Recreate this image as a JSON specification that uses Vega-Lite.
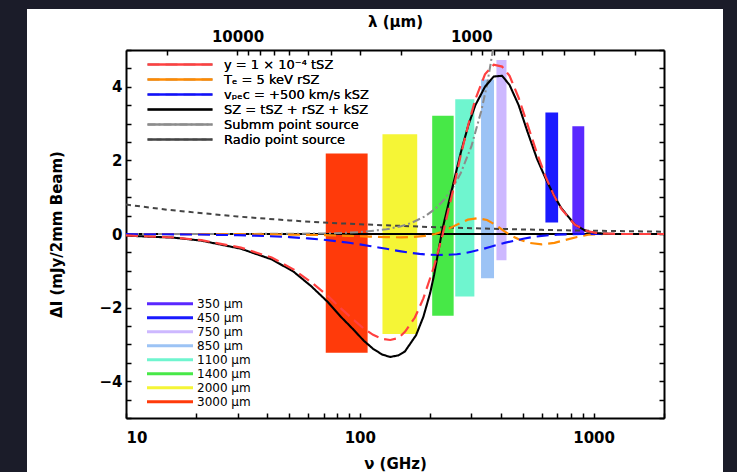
{
  "$schema": "https://vega.github.io/schema/vega-lite/v6.json",
  "width": 696,
  "height": 463,
  "autosize": {"type": "none"},
  "padding": {"left": 27, "top": 9, "right": 14, "bottom": 0},
  "background": "#1b1c29",
  "view": {"fill": "#ffffff", "stroke": null},
  "config": {
    "font": "DejaVu Sans",
    "axis": {
      "grid": false, "domainColor": "#000000", "domainWidth": 2,
      "tickColor": "#000000", "tickWidth": 1.5, "tickSize": -5,
      "labelColor": "#000000", "labelFont": "DejaVu Sans", "labelFontSize": 15, "labelFontWeight": "bold",
      "titleFont": "DejaVu Sans", "titleFontSize": 15, "titleFontWeight": "bold", "titleColor": "#000000"
    },
    "legend": {"labelFont": "DejaVu Sans", "labelColor": "#000000"}
  },
  "datasets": {
    "bands": [
      {"band": "3000 μm", "lo": 71.5, "hi": 108, "top": 2.19, "bottom": -3.23},
      {"band": "2000 μm", "lo": 125, "hi": 176, "top": 2.71, "bottom": -2.72},
      {"band": "1400 μm", "lo": 204, "hi": 252, "top": 3.21, "bottom": -2.22},
      {"band": "1100 μm", "lo": 256, "hi": 309, "top": 3.66, "bottom": -1.7},
      {"band": "850 μm", "lo": 330, "hi": 375, "top": 4.2, "bottom": -1.2},
      {"band": "750 μm", "lo": 384, "hi": 424, "top": 4.73, "bottom": -0.71},
      {"band": "450 μm", "lo": 622, "hi": 705, "top": 3.3, "bottom": 0.31},
      {"band": "350 μm", "lo": 811, "hi": 912, "top": 2.93, "bottom": -0.03}
    ],
    "curves": [
      {"s": "rad", "nu": 10, "v": 0.8}, {"s": "rad", "nu": 15, "v": 0.66}, {"s": "rad", "nu": 20, "v": 0.58},
      {"s": "rad", "nu": 30, "v": 0.475}, {"s": "rad", "nu": 50, "v": 0.37}, {"s": "rad", "nu": 70, "v": 0.31},
      {"s": "rad", "nu": 100, "v": 0.265}, {"s": "rad", "nu": 150, "v": 0.22}, {"s": "rad", "nu": 200, "v": 0.19},
      {"s": "rad", "nu": 300, "v": 0.157}, {"s": "rad", "nu": 400, "v": 0.137}, {"s": "rad", "nu": 600, "v": 0.113},
      {"s": "rad", "nu": 800, "v": 0.098}, {"s": "rad", "nu": 1000, "v": 0.088}, {"s": "rad", "nu": 1500, "v": 0.073},
      {"s": "rad", "nu": 2000, "v": 0.063},

      {"s": "sub", "nu": 10, "v": 0}, {"s": "sub", "nu": 30, "v": 0.001}, {"s": "sub", "nu": 50, "v": 0.005},
      {"s": "sub", "nu": 70, "v": 0.015}, {"s": "sub", "nu": 85, "v": 0.029}, {"s": "sub", "nu": 100, "v": 0.051},
      {"s": "sub", "nu": 130, "v": 0.127}, {"s": "sub", "nu": 150, "v": 0.21}, {"s": "sub", "nu": 166, "v": 0.3},
      {"s": "sub", "nu": 190, "v": 0.48}, {"s": "sub", "nu": 210, "v": 0.68}, {"s": "sub", "nu": 230, "v": 0.94},
      {"s": "sub", "nu": 250, "v": 1.26}, {"s": "sub", "nu": 270, "v": 1.65}, {"s": "sub", "nu": 300, "v": 2.38},
      {"s": "sub", "nu": 330, "v": 3.32}, {"s": "sub", "nu": 350, "v": 4.05}, {"s": "sub", "nu": 371, "v": 5.0},

      {"s": "rsz", "nu": 10, "v": 0}, {"s": "rsz", "nu": 30, "v": -0.005}, {"s": "rsz", "nu": 50, "v": -0.015},
      {"s": "rsz", "nu": 70, "v": -0.03}, {"s": "rsz", "nu": 90, "v": -0.05}, {"s": "rsz", "nu": 110, "v": -0.07},
      {"s": "rsz", "nu": 130, "v": -0.085}, {"s": "rsz", "nu": 150, "v": -0.09}, {"s": "rsz", "nu": 170, "v": -0.08},
      {"s": "rsz", "nu": 190, "v": -0.05}, {"s": "rsz", "nu": 210, "v": 0.0}, {"s": "rsz", "nu": 230, "v": 0.08},
      {"s": "rsz", "nu": 250, "v": 0.2}, {"s": "rsz", "nu": 270, "v": 0.3}, {"s": "rsz", "nu": 290, "v": 0.39},
      {"s": "rsz", "nu": 320, "v": 0.43}, {"s": "rsz", "nu": 350, "v": 0.38}, {"s": "rsz", "nu": 380, "v": 0.25},
      {"s": "rsz", "nu": 410, "v": 0.1}, {"s": "rsz", "nu": 440, "v": -0.03}, {"s": "rsz", "nu": 480, "v": -0.15},
      {"s": "rsz", "nu": 530, "v": -0.24}, {"s": "rsz", "nu": 600, "v": -0.28}, {"s": "rsz", "nu": 680, "v": -0.24},
      {"s": "rsz", "nu": 760, "v": -0.16}, {"s": "rsz", "nu": 850, "v": -0.08}, {"s": "rsz", "nu": 950, "v": -0.02},
      {"s": "rsz", "nu": 1100, "v": 0}, {"s": "rsz", "nu": 2000, "v": 0},

      {"s": "ksz", "nu": 10, "v": -0.004}, {"s": "ksz", "nu": 15, "v": -0.008}, {"s": "ksz", "nu": 20, "v": -0.014},
      {"s": "ksz", "nu": 30, "v": -0.032}, {"s": "ksz", "nu": 40, "v": -0.056}, {"s": "ksz", "nu": 50, "v": -0.085},
      {"s": "ksz", "nu": 60, "v": -0.119}, {"s": "ksz", "nu": 70, "v": -0.157}, {"s": "ksz", "nu": 80, "v": -0.197},
      {"s": "ksz", "nu": 90, "v": -0.239}, {"s": "ksz", "nu": 100, "v": -0.282}, {"s": "ksz", "nu": 110, "v": -0.324},
      {"s": "ksz", "nu": 120, "v": -0.365}, {"s": "ksz", "nu": 130, "v": -0.403}, {"s": "ksz", "nu": 140, "v": -0.439},
      {"s": "ksz", "nu": 150, "v": -0.471}, {"s": "ksz", "nu": 165, "v": -0.511}, {"s": "ksz", "nu": 180, "v": -0.541},
      {"s": "ksz", "nu": 200, "v": -0.565}, {"s": "ksz", "nu": 217, "v": -0.571}, {"s": "ksz", "nu": 240, "v": -0.565},
      {"s": "ksz", "nu": 260, "v": -0.55}, {"s": "ksz", "nu": 280, "v": -0.52}, {"s": "ksz", "nu": 300, "v": -0.48},
      {"s": "ksz", "nu": 330, "v": -0.42}, {"s": "ksz", "nu": 360, "v": -0.355}, {"s": "ksz", "nu": 390, "v": -0.29},
      {"s": "ksz", "nu": 420, "v": -0.235}, {"s": "ksz", "nu": 460, "v": -0.18}, {"s": "ksz", "nu": 500, "v": -0.13},
      {"s": "ksz", "nu": 550, "v": -0.08}, {"s": "ksz", "nu": 600, "v": -0.05}, {"s": "ksz", "nu": 650, "v": -0.03},
      {"s": "ksz", "nu": 700, "v": -0.018}, {"s": "ksz", "nu": 800, "v": -0.006}, {"s": "ksz", "nu": 900, "v": -0.001},
      {"s": "ksz", "nu": 1000, "v": 0}, {"s": "ksz", "nu": 2000, "v": 0},

      {"s": "tot", "nu": 10, "v": -0.045}, {"s": "tot", "nu": 16, "v": -0.1}, {"s": "tot", "nu": 21, "v": -0.18},
      {"s": "tot", "nu": 31, "v": -0.4}, {"s": "tot", "nu": 42, "v": -0.69}, {"s": "tot", "nu": 52, "v": -1.02},
      {"s": "tot", "nu": 62, "v": -1.42}, {"s": "tot", "nu": 73, "v": -1.85}, {"s": "tot", "nu": 83, "v": -2.25},
      {"s": "tot", "nu": 94, "v": -2.6}, {"s": "tot", "nu": 104, "v": -2.9}, {"s": "tot", "nu": 114, "v": -3.12},
      {"s": "tot", "nu": 125, "v": -3.28}, {"s": "tot", "nu": 135, "v": -3.34}, {"s": "tot", "nu": 146, "v": -3.3},
      {"s": "tot", "nu": 156, "v": -3.19}, {"s": "tot", "nu": 174, "v": -2.75}, {"s": "tot", "nu": 187, "v": -2.25},
      {"s": "tot", "nu": 200, "v": -1.6}, {"s": "tot", "nu": 208, "v": -1.1}, {"s": "tot", "nu": 217, "v": -0.45},
      {"s": "tot", "nu": 226, "v": 0.15}, {"s": "tot", "nu": 240, "v": 0.85}, {"s": "tot", "nu": 254, "v": 1.5},
      {"s": "tot", "nu": 270, "v": 2.2}, {"s": "tot", "nu": 291, "v": 2.95}, {"s": "tot", "nu": 312, "v": 3.5},
      {"s": "tot", "nu": 343, "v": 4.0}, {"s": "tot", "nu": 374, "v": 4.28}, {"s": "tot", "nu": 406, "v": 4.3},
      {"s": "tot", "nu": 437, "v": 4.05}, {"s": "tot", "nu": 478, "v": 3.5}, {"s": "tot", "nu": 520, "v": 2.8},
      {"s": "tot", "nu": 572, "v": 2.05}, {"s": "tot", "nu": 624, "v": 1.5}, {"s": "tot", "nu": 676, "v": 1.05},
      {"s": "tot", "nu": 728, "v": 0.7}, {"s": "tot", "nu": 832, "v": 0.25}, {"s": "tot", "nu": 936, "v": 0.07},
      {"s": "tot", "nu": 1040, "v": 0.02}, {"s": "tot", "nu": 1250, "v": 0}, {"s": "tot", "nu": 2000, "v": 0},

      {"s": "tsz", "nu": 10, "v": -0.04}, {"s": "tsz", "nu": 16, "v": -0.095}, {"s": "tsz", "nu": 21, "v": -0.167},
      {"s": "tsz", "nu": 31, "v": -0.37}, {"s": "tsz", "nu": 42, "v": -0.64}, {"s": "tsz", "nu": 52, "v": -0.96},
      {"s": "tsz", "nu": 62, "v": -1.31}, {"s": "tsz", "nu": 73, "v": -1.68}, {"s": "tsz", "nu": 83, "v": -2.02},
      {"s": "tsz", "nu": 94, "v": -2.33}, {"s": "tsz", "nu": 104, "v": -2.57}, {"s": "tsz", "nu": 114, "v": -2.74},
      {"s": "tsz", "nu": 125, "v": -2.85}, {"s": "tsz", "nu": 135, "v": -2.88}, {"s": "tsz", "nu": 146, "v": -2.83},
      {"s": "tsz", "nu": 156, "v": -2.66}, {"s": "tsz", "nu": 172, "v": -2.27}, {"s": "tsz", "nu": 187, "v": -1.75},
      {"s": "tsz", "nu": 208, "v": -0.87}, {"s": "tsz", "nu": 226, "v": -0.02}, {"s": "tsz", "nu": 250, "v": 1.16},
      {"s": "tsz", "nu": 270, "v": 2.13}, {"s": "tsz", "nu": 291, "v": 2.97}, {"s": "tsz", "nu": 312, "v": 3.66},
      {"s": "tsz", "nu": 343, "v": 4.34}, {"s": "tsz", "nu": 374, "v": 4.6}, {"s": "tsz", "nu": 406, "v": 4.55},
      {"s": "tsz", "nu": 437, "v": 4.3}, {"s": "tsz", "nu": 478, "v": 3.7}, {"s": "tsz", "nu": 520, "v": 3.0},
      {"s": "tsz", "nu": 572, "v": 2.2}, {"s": "tsz", "nu": 624, "v": 1.55}, {"s": "tsz", "nu": 676, "v": 1.05},
      {"s": "tsz", "nu": 728, "v": 0.68}, {"s": "tsz", "nu": 832, "v": 0.25}, {"s": "tsz", "nu": 936, "v": 0.08},
      {"s": "tsz", "nu": 1040, "v": 0.02}, {"s": "tsz", "nu": 1250, "v": 0}, {"s": "tsz", "nu": 2000, "v": 0}
    ]
  },
  "layer": [
    {
      "data": {"name": "bands"},
      "mark": {"type": "rect"},
      "encoding": {
        "x": {
          "field": "lo", "type": "quantitative",
          "scale": {"type": "log", "domain": [10, 2000], "range": [99, 637], "nice": false},
          "axis": {
            "orient": "bottom", "offset": -54,
            "values": [10, 20, 30, 40, 50, 60, 70, 80, 90, 100, 200, 300, 400, 500, 600, 700, 800, 900, 1000, 2000],
            "labelExpr": "datum.value == 10 ? '10' : datum.value == 100 ? '100' : datum.value == 1000 ? '1000' : ''",
            "labelPadding": 17, "title": "ν  (GHz)", "titlePadding": 11
          }
        },
        "x2": {"field": "hi"},
        "y": {
          "field": "top", "type": "quantitative",
          "scale": {"domain": [-5, 5], "range": [409, 41], "nice": false, "zero": false},
          "axis": {
            "orient": "left", "offset": -99,
            "values": [-5, -4.5, -4, -3.5, -3, -2.5, -2, -1.5, -1, -0.5, 0, 0.5, 1, 1.5, 2, 2.5, 3, 3.5, 4, 4.5, 5],
            "labelExpr": "datum.value == 4 ? '4' : datum.value == 2 ? '2' : datum.value == 0 ? '0' : datum.value == -2 ? '−2' : datum.value == -4 ? '−4' : ''",
            "labelPadding": 9, "title": "ΔI (mJy/2mm Beam)", "titlePadding": 34
          }
        },
        "y2": {"field": "bottom"},
        "color": {
          "field": "band", "type": "nominal",
          "scale": {
            "domain": ["350 μm", "450 μm", "750 μm", "850 μm", "1100 μm", "1400 μm", "2000 μm", "3000 μm"],
            "range": ["#5a28ff", "#1a1aff", "#cdb8ff", "#9cc3f5", "#6ff5cf", "#47e847", "#f5f536", "#ff3a0a"]
          },
          "legend": {
            "orient": "none", "legendX": 120, "legendY": 288, "title": null, "padding": 0,
            "clipHeight": 13.5, "rowPadding": 0,
            "symbolType": "M-1,-0.07H1V0.07H-1Z", "symbolSize": 2116, "symbolStrokeWidth": 0,
            "labelFontSize": 12, "labelOffset": 4
          }
        }
      }
    },
    {
      "data": {"values": [{"level": 0, "a": 10, "b": 2000}]},
      "mark": {"type": "rule", "color": "#000000", "strokeWidth": 2},
      "encoding": {
        "x": {"field": "a", "type": "quantitative", "scale": {"type": "log", "domain": [10, 2000], "range": [99, 637], "nice": false}, "axis": null},
        "x2": {"field": "b"},
        "y": {"field": "level", "type": "quantitative", "scale": {"domain": [-5, 5], "range": [409, 41], "nice": false, "zero": false}, "axis": null}
      }
    },
    {
      "data": {"name": "curves"},
      "mark": {"type": "line"},
      "encoding": {
        "x": {
          "field": "nu", "type": "quantitative",
          "scale": {"type": "log", "domain": [10, 2000], "range": [99, 637], "nice": false},
          "axis": {
            "orient": "top", "offset": -41,
            "values": [14.99, 29.98, 33.31, 37.47, 42.83, 49.97, 59.96, 74.95, 99.93, 149.9, 299.8, 333.1, 374.7, 428.3, 499.7, 599.6, 749.5, 999.3, 1499],
            "labelExpr": "datum.value == 29.98 ? '10000' : datum.value == 299.8 ? '1000' : ''",
            "labelPadding": 11, "title": "λ (μm)", "titlePadding": 0
          }
        },
        "y": {
          "field": "v", "type": "quantitative",
          "scale": {"domain": [-5, 5], "range": [409, 41], "nice": false, "zero": false},
          "axis": {
            "orient": "right", "offset": -59, "labels": false, "title": null,
            "values": [-5, -4.5, -4, -3.5, -3, -2.5, -2, -1.5, -1, -0.5, 0, 0.5, 1, 1.5, 2, 2.5, 3, 3.5, 4, 4.5, 5]
          }
        },
        "color": {
          "field": "s", "type": "nominal",
          "scale": {
            "domain": ["tsz", "rsz", "ksz", "tot", "sub", "rad"],
            "range": ["#ff4040", "#ff8a00", "#1010ff", "#000000", "#8c8c8c", "#444444"]
          },
          "legend": {
            "orient": "none", "legendX": 119, "legendY": 48, "title": null, "padding": 0,
            "clipHeight": 15, "rowPadding": 0,
            "symbolType": "stroke", "symbolSize": 4225, "symbolStrokeWidth": 2.5,
            "labelFontSize": 13, "labelOffset": 10,
            "labelExpr": "datum.label == 'tsz' ? 'y = 1 × 10⁻⁴ tSZ' : datum.label == 'rsz' ? 'Tₑ = 5 keV rSZ' : datum.label == 'ksz' ? 'vₚₑc = +500 km/s kSZ' : datum.label == 'tot' ? 'SZ = tSZ + rSZ + kSZ' : datum.label == 'sub' ? 'Submm point source' : 'Radio point source'"
          }
        },
        "strokeDash": {
          "field": "s", "type": "nominal",
          "scale": {
            "domain": ["tsz", "rsz", "ksz", "tot", "sub", "rad"],
            "range": [[12, 6], [12, 6], [12, 6], [1, 0], [8, 3, 2, 3], [5, 4]]
          },
          "legend": {
            "orient": "none", "legendX": 119, "legendY": 48, "title": null, "padding": 0,
            "clipHeight": 15, "rowPadding": 0,
            "symbolType": "stroke", "symbolSize": 4225, "symbolStrokeWidth": 2.5,
            "labelFontSize": 13, "labelOffset": 10,
            "labelExpr": "datum.label == 'tsz' ? 'y = 1 × 10⁻⁴ tSZ' : datum.label == 'rsz' ? 'Tₑ = 5 keV rSZ' : datum.label == 'ksz' ? 'vₚₑc = +500 km/s kSZ' : datum.label == 'tot' ? 'SZ = tSZ + rSZ + kSZ' : datum.label == 'sub' ? 'Submm point source' : 'Radio point source'"
          }
        },
        "strokeWidth": {
          "field": "s", "type": "nominal",
          "scale": {"domain": ["tsz", "rsz", "ksz", "tot", "sub", "rad"], "range": [2.2, 2, 2.5, 2.2, 1.2, 1.8]},
          "legend": null
        }
      }
    }
  ],
  "resolve": {
    "scale": {"color": "independent"},
    "axis": {"x": "independent", "y": "independent"}
  }
}
